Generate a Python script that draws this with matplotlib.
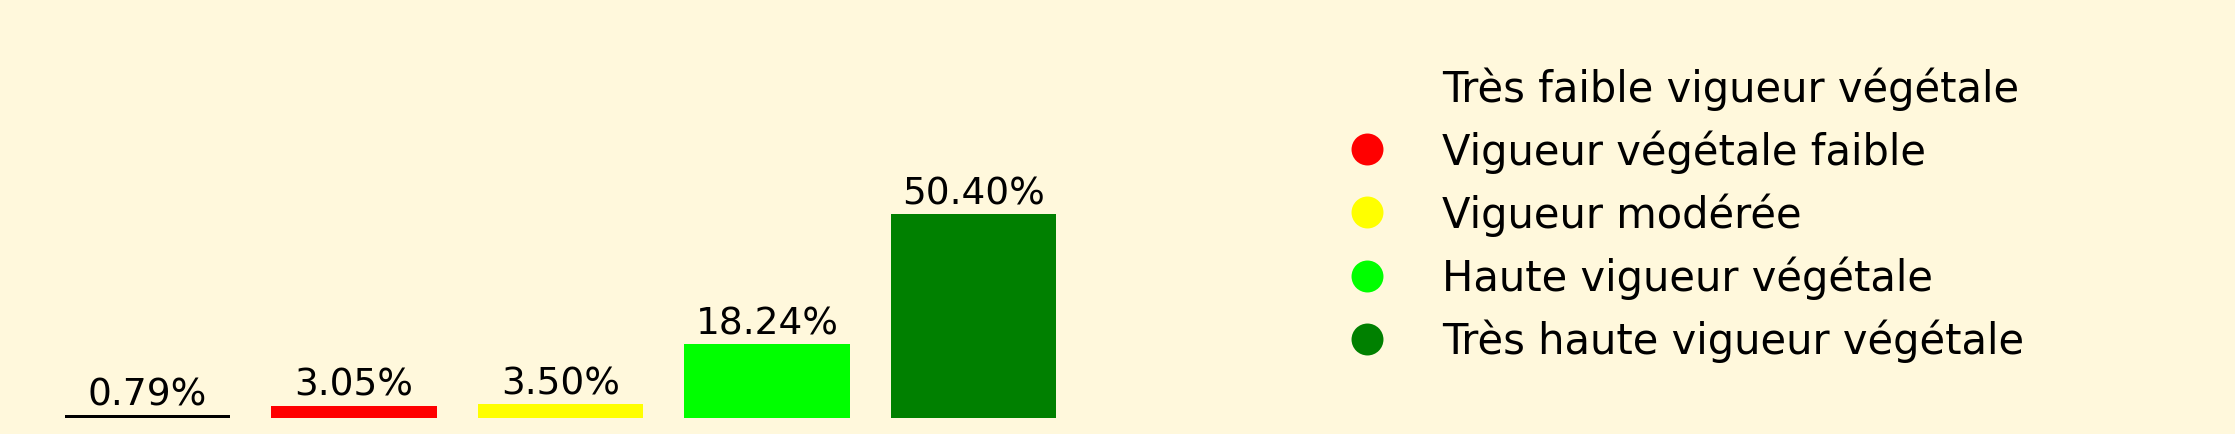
import matplotlib.pyplot as plt
from matplotlib.lines import Line2D

# classes of vegetation vigour (NDVI)
categories = ["Très faible vigueur végétale", "Vigueur végétale faible",
              "Vigueur modérée", "Haute vigueur végétale",
              "Très haute vigueur végétale"]
percentages = [0.79, 3.05, 3.50, 18.24, 50.40]
bar_colors = ["black", "red", "yellow", "lime", "green"]
# first legend marker is not shown in the reference
legend_colors = ["none", "red", "yellow", "lime", "green"]

BG = "#FFF8DC"

fig = plt.figure(figsize=(22.35, 4.35), dpi=100, facecolor=BG)
ax = fig.add_axes([44.25 / 2235, 16 / 435, 1032.5 / 2235, 405 / 435])
ax.set_facecolor(BG)

x = list(range(len(categories)))
bars = ax.bar(x, percentages, width=0.8, color=bar_colors)
ax.bar_label(bars, labels=[f"{p:.2f}%" for p in percentages], fontsize=27, padding=2)
ax.set_xlim(-0.5, 4.5)
ax.set_ylim(0, 100)
ax.axis("off")

handles = [Line2D([0], [0], marker="o", linestyle="none", markersize=23,
                  markerfacecolor=c, markeredgecolor="none")
           for c in legend_colors]
fig.legend(handles, categories, loc="center left", bbox_to_anchor=(1288 / 2235, 0.505),
           frameon=False, fontsize=30, labelspacing=0.47)

fig.savefig("out.png", dpi=100, facecolor=BG)
